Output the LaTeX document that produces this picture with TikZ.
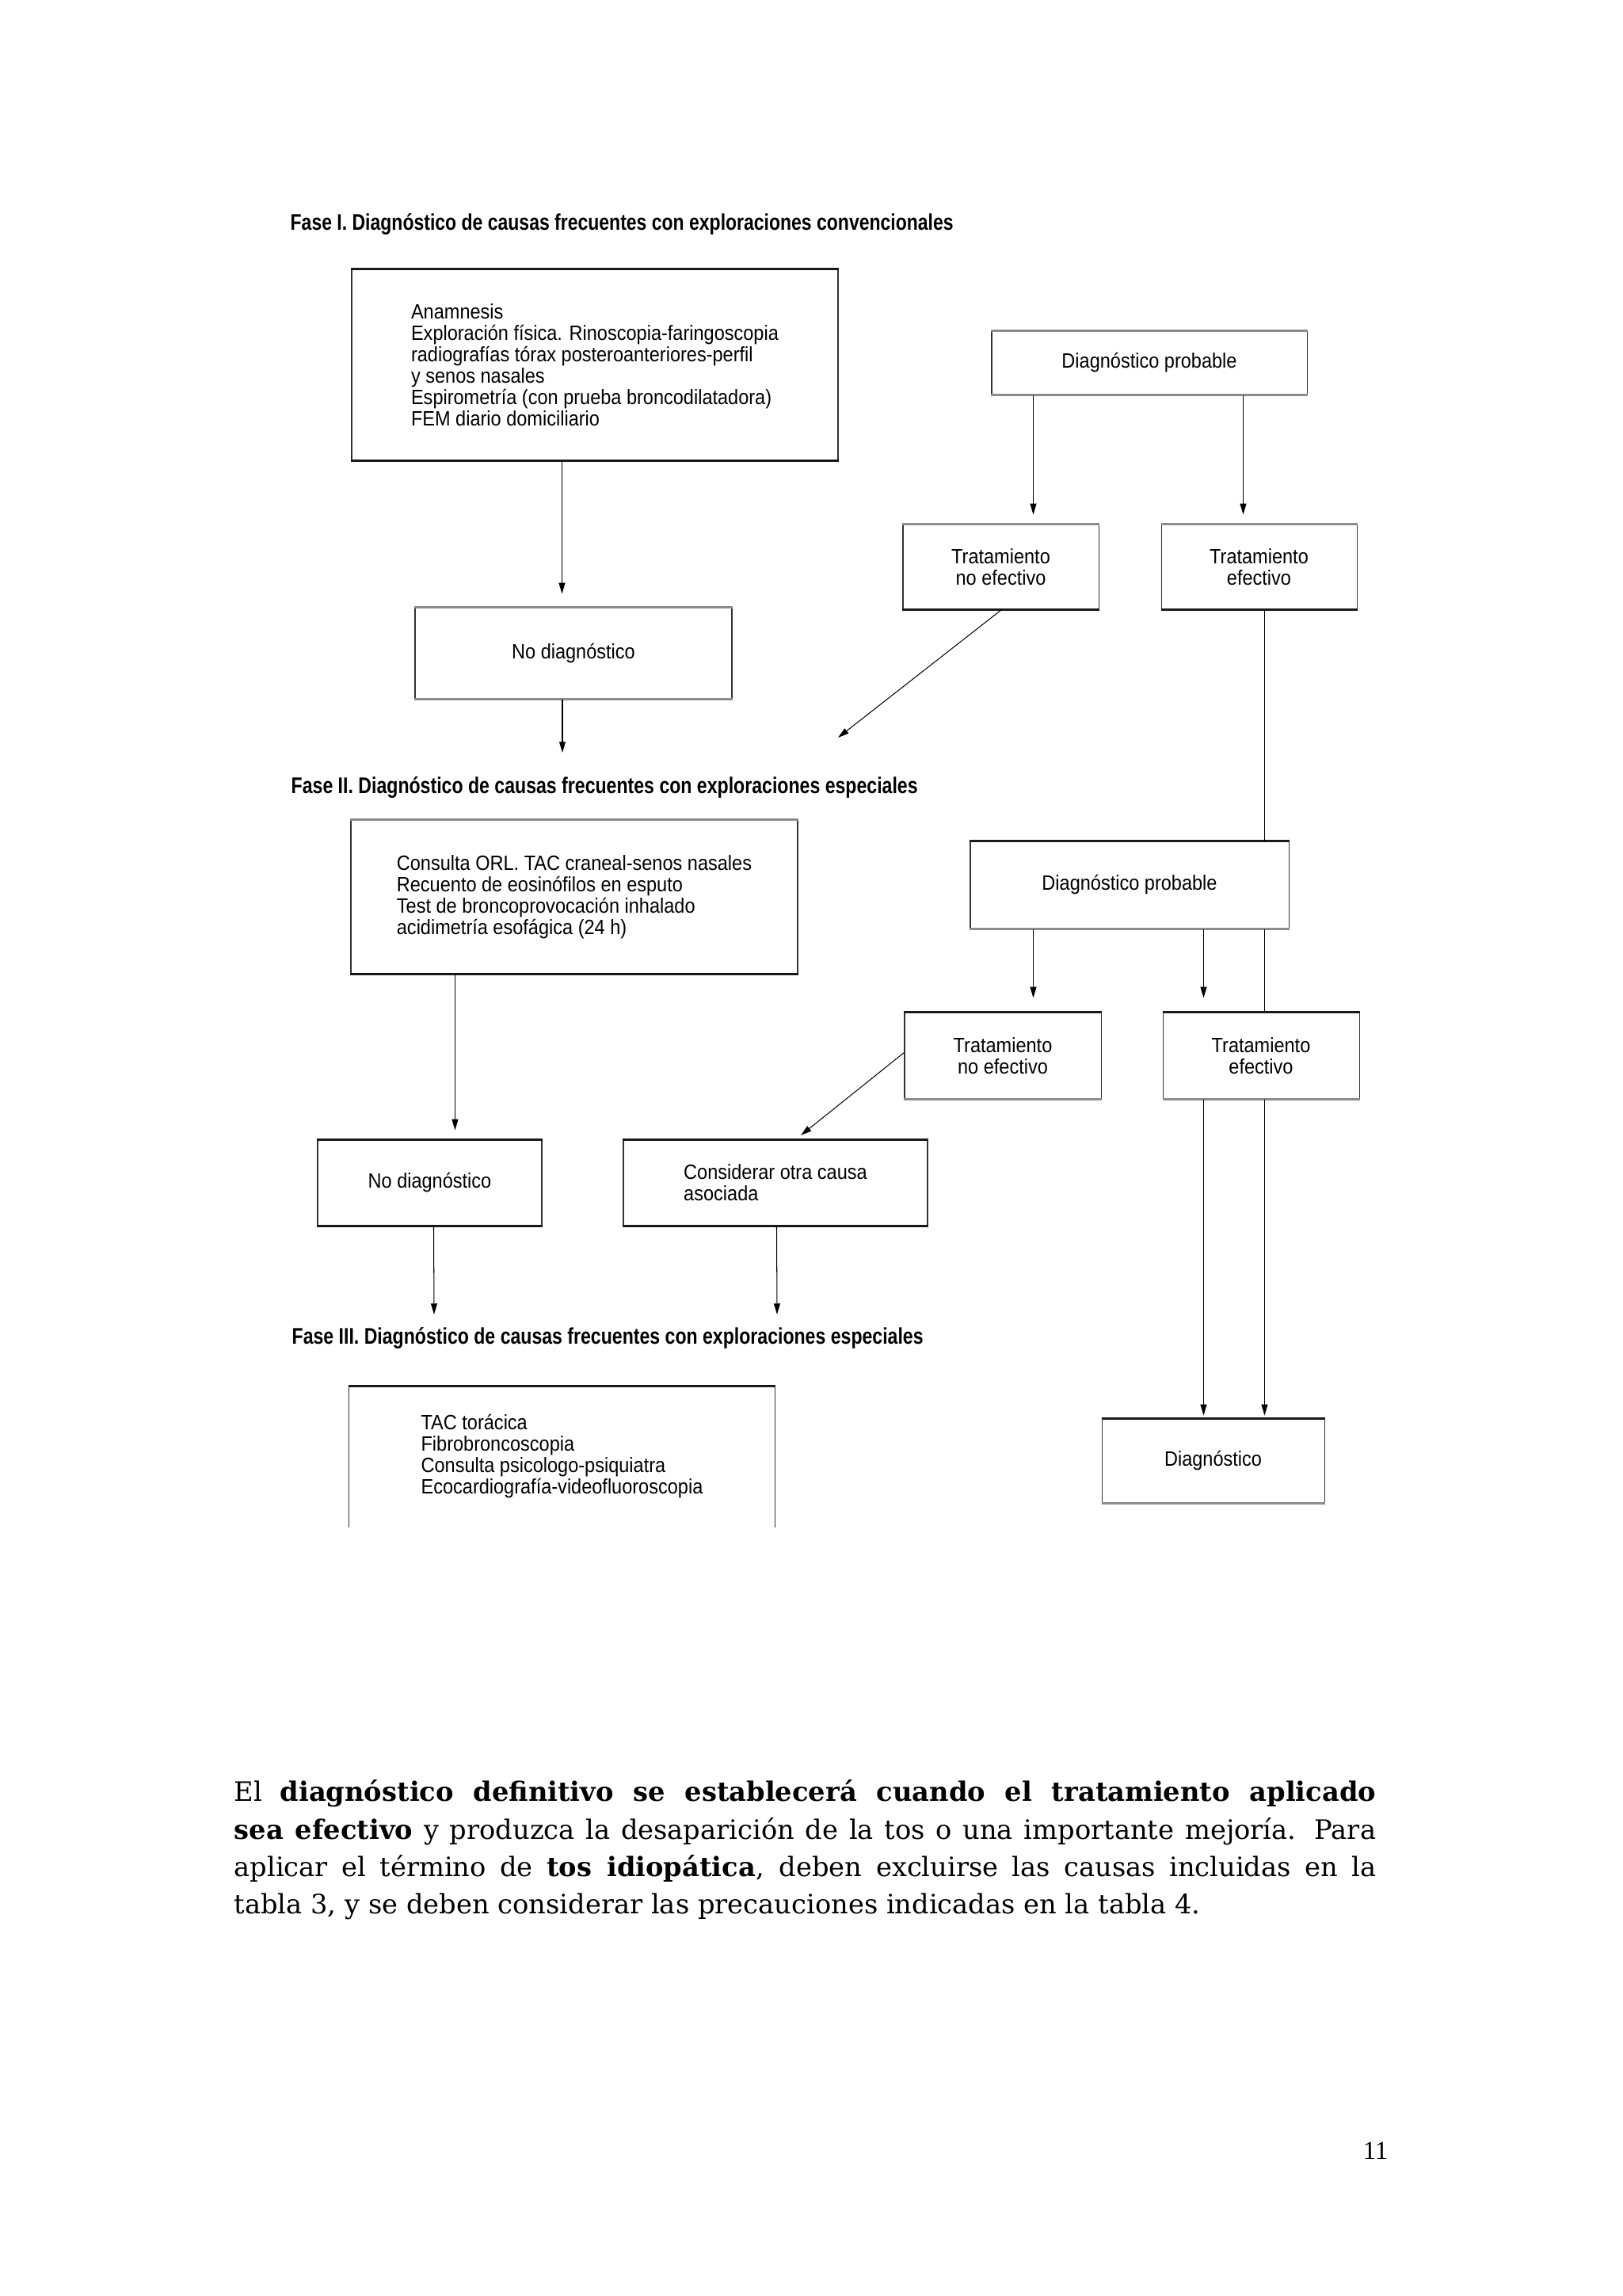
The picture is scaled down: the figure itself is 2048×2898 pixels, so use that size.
\documentclass[tikz,border=0pt]{standalone}
\usepackage{fontspec}
\usepackage{graphicx}
\setmainfont{Liberation Serif}
\newfontfamily\boxfont[FakeStretch=0.9]{Liberation Sans}
\newfontfamily\ttlfont{Liberation Sans}
\newfontfamily\parfont{DejaVu Serif}
\usetikzlibrary{arrows.meta,calc}
\newlength\pxu \setlength\pxu{0.29066pt}
\newcommand\ttl[2]{\resizebox{#1\pxu}{\height}{\ttlfont\bfseries\fontsize{8.3}{10}\selectfont #2}}
\begin{document}
\begin{tikzpicture}[x=0.29066pt,y=-0.29066pt,
  box/.style={draw=black!80, line width=0.3pt, inner sep=0pt,
    font=\boxfont\fontsize{7.6}{7.85}\selectfont},
  hk/.style={line width=0.75pt, draw=black!90},
  hg/.style={line width=0.75pt, draw=black!45},
  arr/.style={draw=black, line width=0.3pt, -{Triangle[length=4pt,width=2.3pt]}},
  ln/.style={draw=black, line width=0.3pt},
  ttlnode/.style={anchor=base west, inner sep=0pt},
  parline/.style={anchor=base west, inner sep=0pt, font=\parfont\fontsize{9.8}{13}\selectfont}]
\fill[white] (0,0) rectangle (2048,2898);
\useasboundingbox (0,0) rectangle (2048,2898);

% titles
\node[ttlnode] (T1) at (366,290) {\ttl{837}{Fase I. Diagnóstico de causas frecuentes con exploraciones convencionales}};
\node[ttlnode] (T2) at (367,1001) {\ttl{791}{Fase II. Diagnóstico de causas frecuentes con exploraciones especiales}};
\node[ttlnode] (T3) at (368,1696) {\ttl{797}{Fase III. Diagnóstico de causas frecuentes con exploraciones especiales}};

% Phase I
\node[box, align=left, minimum width=614*\pxu, minimum height=241*\pxu] (A) at (751,460.5)
  {Anamnesis\\Exploración física. Rinoscopia-faringoscopia\\radiografías tórax posteroanteriores-perfil\\y senos nasales\\Espirometría (con prueba broncodilatadora)\\FEM diario domiciliario};
\node[box, align=center, minimum width=398*\pxu, minimum height=80*\pxu] (B) at (1451,458) {Diagnóstico probable};
\node[box, align=center, minimum width=247*\pxu, minimum height=107*\pxu] (C) at (1263.5,715.5) {Tratamiento\\no efectivo};
\node[box, align=center, minimum width=247*\pxu, minimum height=107*\pxu] (D) at (1589.5,715.5) {Tratamiento\\efectivo};
\node[box, align=center, minimum width=400*\pxu, minimum height=115*\pxu] (E) at (724,824.5) {No diagnóstico};

% Phase II
\node[box, align=left, minimum width=564*\pxu, minimum height=194*\pxu] (I) at (725,1132)
  {Consulta ORL. TAC craneal-senos nasales\\Recuento de eosinófilos en esputo\\Test de broncoprovocación inhalado\\acidimetría esofágica (24 h)};
\node[box, align=center, minimum width=402*\pxu, minimum height=110*\pxu] (F) at (1426,1117) {Diagnóstico probable};
\node[box, align=center, minimum width=248*\pxu, minimum height=109*\pxu] (G1) at (1266,1332.5) {Tratamiento\\no efectivo};
\node[box, align=center, minimum width=248*\pxu, minimum height=109*\pxu] (G2) at (1592,1332.5) {Tratamiento\\efectivo};
\node[box, align=center, minimum width=283*\pxu, minimum height=108*\pxu] (J) at (542.5,1493) {No diagnóstico};
\node[box, align=left, minimum width=384*\pxu, minimum height=108*\pxu] (K) at (979,1493) {Considerar otra causa\\asociada};

% Phase III
\node[box, draw=none, align=left, minimum width=537*\pxu, minimum height=177*\pxu] (L) at (709.5,1838.5)
  {TAC torácica\\Fibrobroncoscopia\\Consulta psicologo-psiquiatra\\Ecocardiografía-videofluoroscopia};
\draw[draw=black!80, line width=0.3pt] (L.south west) -- (L.north west) (L.north east) -- (L.south east);
\node[box, align=center, minimum width=281*\pxu, minimum height=106*\pxu] (H) at (1531.5,1844) {Diagnóstico};

% heavy top / bottom edges
\draw[hk] (A.north west) -- (A.north east);  \draw[hk] (A.south west) -- (A.south east);
\draw[hg] (B.north west) -- (B.north east);  \draw[hg] (B.south west) -- (B.south east);
\draw[hg] (C.north west) -- (C.north east);  \draw[hk] (C.south west) -- (C.south east);
\draw[hg] (D.north west) -- (D.north east);  \draw[hk] (D.south west) -- (D.south east);
\draw[hg] (E.north west) -- (E.north east);  \draw[hg] (E.south west) -- (E.south east);
\draw[hg] (I.north west) -- (I.north east);  \draw[hk] (I.south west) -- (I.south east);
\draw[hk] (F.north west) -- (F.north east);  \draw[hg] (F.south west) -- (F.south east);
\draw[hk] (G1.north west) -- (G1.north east);  \draw[hg] (G1.south west) -- (G1.south east);
\draw[hk] (G2.north west) -- (G2.north east);  \draw[hg] (G2.south west) -- (G2.south east);
\draw[hk] (J.north west) -- (J.north east);  \draw[hk] (J.south west) -- (J.south east);
\draw[hk] (K.north west) -- (K.north east);  \draw[hk] (K.south west) -- (K.south east);
\draw[hk] (L.north west) -- (L.north east);
\draw[hk] (H.north west) -- (H.north east);  \draw[hg] (H.south west) -- (H.south east);

% free ends
\coordinate (c1) at (710,950);
\coordinate (c2) at (1058,931);
\coordinate (c3) at (548,1659);
\coordinate (c4) at (981,1659);
\coordinate (c5) at (1011,1433);

% connectors phase I
\draw[arr, shorten >=17*\pxu] ($(A.south west)+(266,0)$) coordinate (a1) -- (a1 |- E.north);
\draw[arr] (E.south -| c1) -- (c1);
\draw[arr, shorten >=12*\pxu] ($(B.south west)+(53,0)$) coordinate (b1) -- (b1 |- C.north);
\draw[arr, shorten >=12*\pxu] ($(B.south west)+(318,0)$) coordinate (b2) -- (b2 |- D.north);
\draw[arr] ($(C.south west)+(125,0)$) -- (c2);
\draw[ln] ($(D.south west)+(131,0)$) coordinate (d1) -- (d1 |- F.north);

% connectors phase II
\draw[arr, shorten >=18*\pxu] ($(F.south west)+(80,0)$) coordinate (f1) -- (f1 |- G1.north);
\draw[arr, shorten >=18*\pxu] ($(F.south west)+(295,0)$) coordinate (f2) -- (f2 |- G2.north);
\draw[ln] ($(F.south west)+(372,0)$) coordinate (f3) -- (f3 |- G2.north);
\draw[arr, shorten >=4*\pxu] ($(G2.south west)+(52,0)$) coordinate (g1) -- (g1 |- H.north);
\draw[arr, shorten >=4*\pxu] ($(G2.south west)+(129,0)$) coordinate (g2) -- (g2 |- H.north);
\draw[arr, shorten >=12*\pxu] ($(I.south west)+(132,0)$) coordinate (i1) -- (i1 |- J.north);
\draw[arr] ($(G1.west)+(0,-4)$) -- (c5);
\draw[arr] ($(J.south west)+(147,0)$) coordinate (j1) -- (c3);
\draw[arr] ($(K.south west)+(194,0)$) coordinate (k1) -- (c4);

% paragraph
\node[parline] (p1) at (295,2273) {\makebox[419pt][s]{El \textbf{diagnóstico definitivo se establecerá cuando el tratamiento aplicado}}};
\node[parline] (p2) at (295,2321) {\makebox[419pt][s]{\textbf{sea efectivo} y produzca la desaparición de la tos o una importante mejoría. Para}};
\node[parline] (p3) at (295,2368) {\makebox[419pt][s]{aplicar el término de \textbf{tos idiopática}, deben excluirse las causas incluidas en la}};
\node[parline] (p4) at (295,2415) {tabla 3, y se deben considerar las precauciones indicadas en la tabla 4.};

% page number
\node[anchor=base east, inner sep=0pt, font=\fontsize{9.5}{11}\selectfont] (pn) at (1753,2725) {11};
\end{tikzpicture}
\end{document}
